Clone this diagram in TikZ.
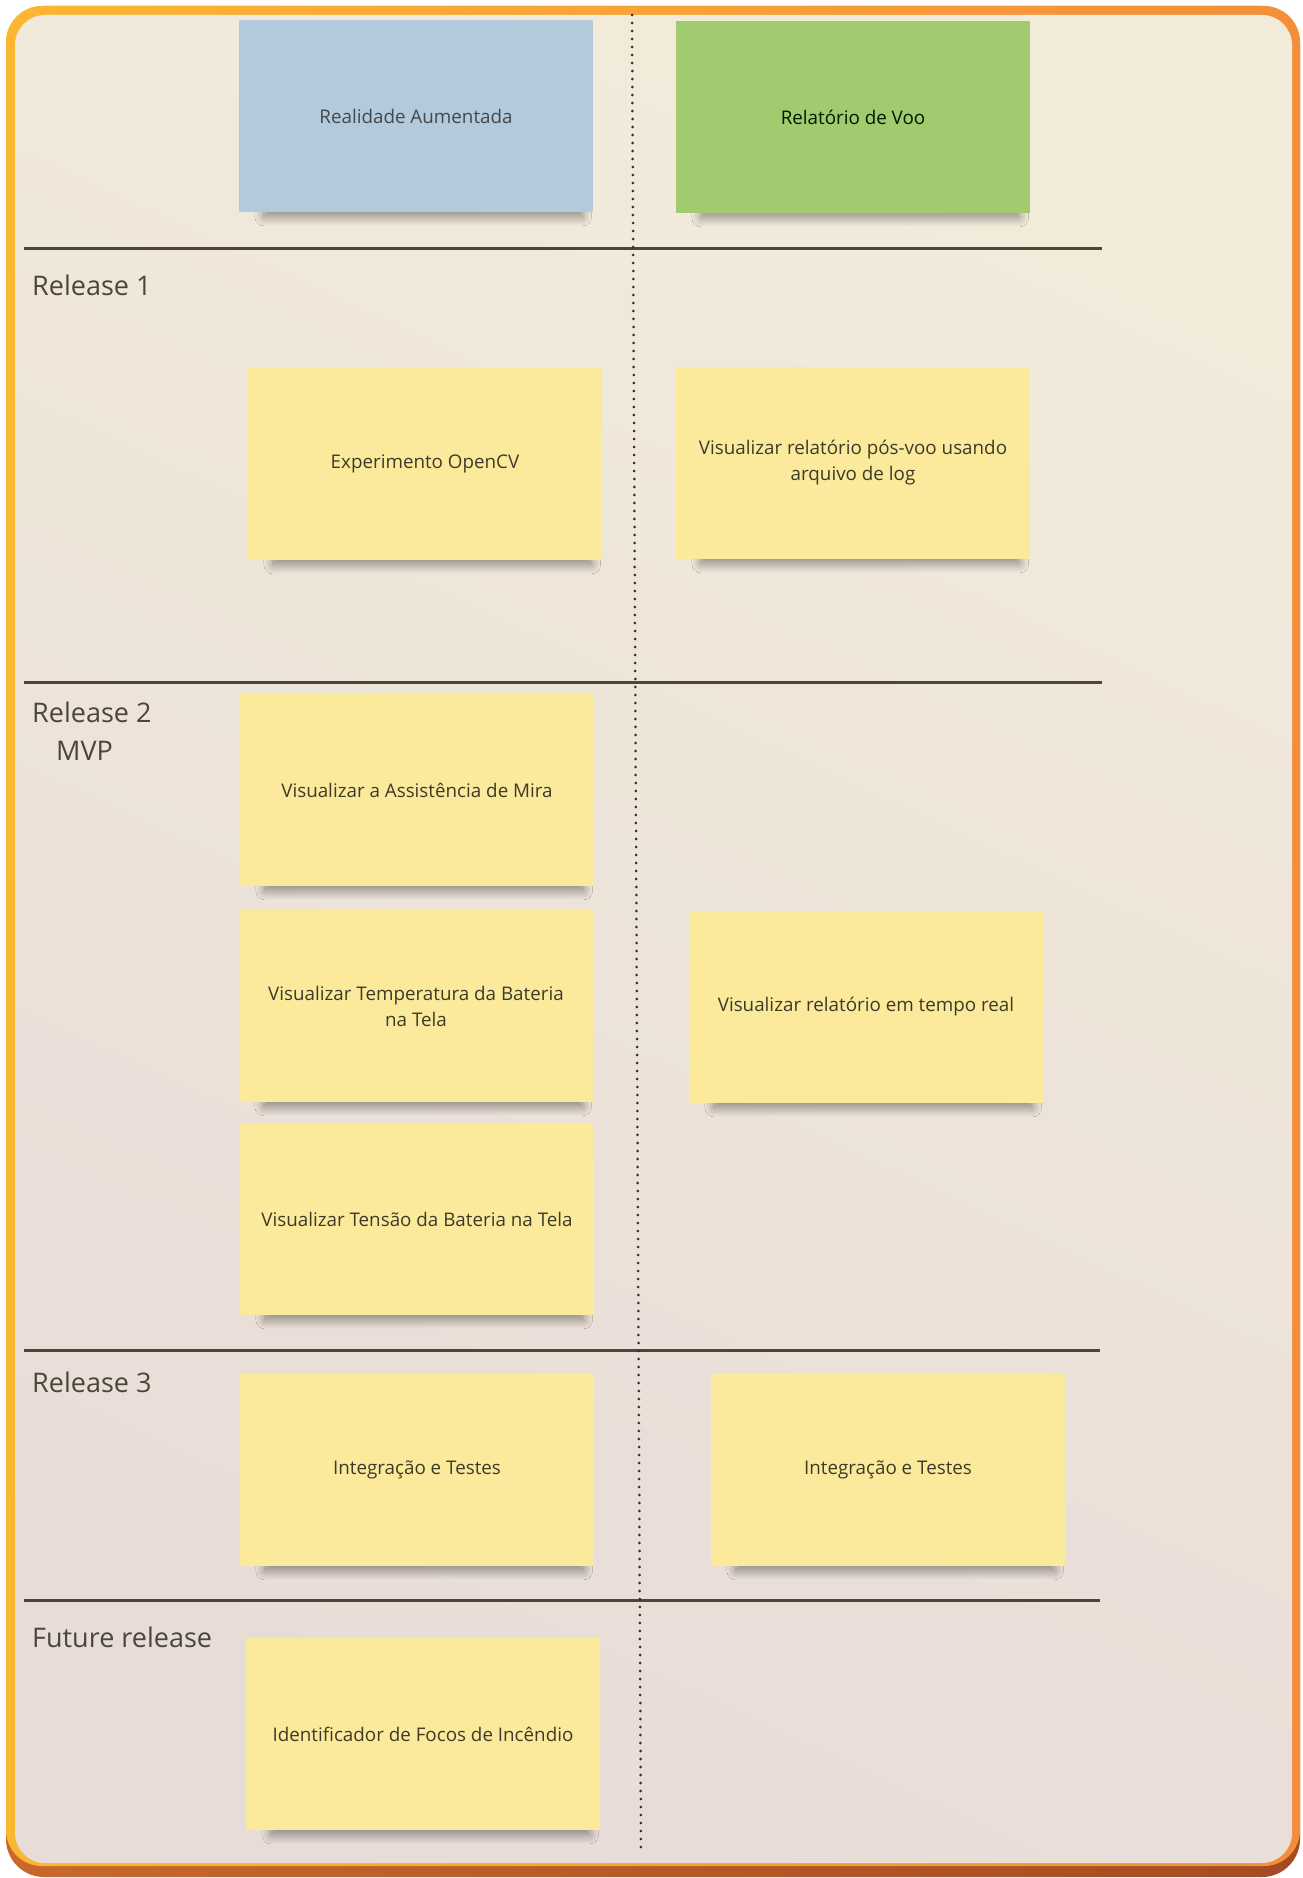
\documentclass[tikz,border=0pt]{standalone}
\usepackage{fontspec}
\setmainfont{Open Sans}
\usetikzlibrary{shadows.blur}
\definecolor{frameA}{HTML}{FBB632}
\definecolor{frameB}{HTML}{F48E3A}
\definecolor{frameC}{HTML}{C8682C}
\definecolor{frameD}{HTML}{A54B24}
\definecolor{boardA}{HTML}{F2EBDA}
\definecolor{boardB}{HTML}{E8DCD8}
\definecolor{noteyellow}{HTML}{FCEA9C}
\definecolor{noteblue}{HTML}{B3CADC}
\definecolor{notegreen}{HTML}{A2CB70}
\definecolor{notetext}{HTML}{3E3A28}
\definecolor{lanetext}{HTML}{4B4639}
\definecolor{laneline}{HTML}{4E4536}
\tikzset{
	note/.style={fill=noteyellow, minimum width=354pt, minimum height=192pt, inner sep=0pt, align=center, text=notetext, font=\fontsize{18.8}{26}\selectfont, blur shadow={shadow xshift=8pt, shadow yshift=-16pt, shadow scale=0.9, shadow opacity=42, shadow blur radius=10pt, shadow blur steps=20}},
	lane/.style={anchor=base west, inner sep=0pt, text=lanetext, font=\fontsize{27}{32}\selectfont},
	sep/.style={draw=laneline, line width=3pt},
	dotline/.style={draw=black!80, line width=3pt, dash pattern=on 0pt off 8pt, line cap=round},
}
\begin{document}
\begin{tikzpicture}[x=1pt,y=-1pt]
	\useasboundingbox (0,0) rectangle (1302,1878);
	\shade[rounded corners=38pt, left color=frameC, right color=frameD] (6,6) rectangle (1300,1877);
	\shade[rounded corners=36pt, left color=frameA, right color=frameB] (6,6) rectangle (1300,1866);
	\shade[rounded corners=30pt, top color=boardA, bottom color=boardB, shading angle=-25] (15,15) rectangle (1292,1863);
	\draw[sep] (24,249) -- (1102,249);
	\draw[sep] (24,682) -- (1102,682);
	\draw[sep] (24,1350) -- (1100,1350);
	\draw[sep] (24,1600) -- (1100,1600);
	\draw[dotline] (632,15) -- (641,1851);
	\node[lane] (r1) at (32,295) {Release 1};
	\node[lane] (r2) at (32,722) {Release 2};
	\node[lane] (mvp) at (56,760) {MVP};
	\node[lane] (r3) at (32,1392) {Release 3};
	\node[lane] (fr) at (32,1647) {Future release};
	\node[note, fill=noteblue, text=black!72] (realidade) at (416,116) {Realidade Aumentada};
	\node[note, fill=notegreen, text=black!75!green!40!black] (relvoo) at (853,117) {Relatório de Voo};
	\node[note] (opencv) at (425,464) {Experimento OpenCV};
	\node[note] (posvoo) at (853,463) {Visualizar relatório pós-voo usando\\arquivo de log};
	\node[note] (mira) at (417,790) {Visualizar a Assistência de Mira};
	\node[note] (temp) at (416,1006) {Visualizar Temperatura da Bateria\\na Tela};
	\node[note] (tempo) at (866,1007) {Visualizar relatório em tempo real};
	\node[note] (tensao) at (417,1219) {Visualizar Tensão da Bateria na Tela};
	\node[note] (intega) at (417,1470) {Integração e Testes};
	\node[note] (integb) at (888,1470) {Integração e Testes};
	\node[note] (focos) at (423,1734) {Identificador de Focos de Incêndio};
\end{tikzpicture}
\end{document}
